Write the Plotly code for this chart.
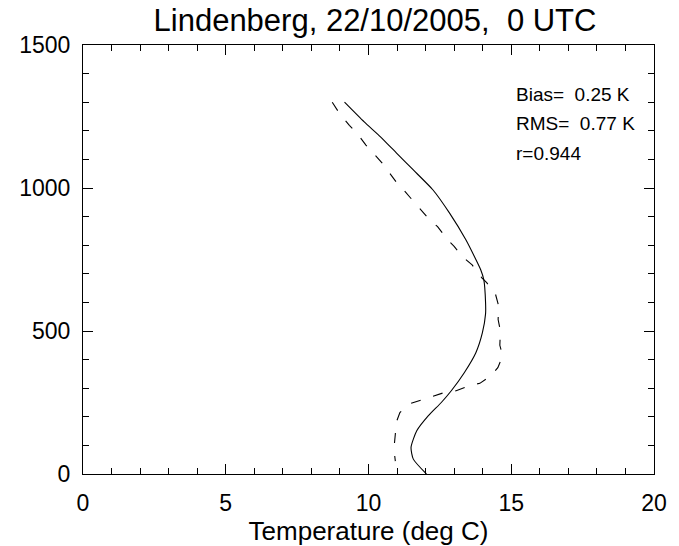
import plotly.graph_objects as go

# Solid profile (temperature in deg C, height in m)
solid_temp = [9.16, 9.85, 10.42, 11.0, 11.57, 12.26, 12.84, 13.41, 13.76, 13.93, 14.04, 14.1,
              14.1, 13.99, 13.76, 13.36, 12.9, 12.55, 12.09, 11.69, 11.49, 11.57, 12.03]
solid_height = [1300, 1231, 1179, 1120, 1063, 993, 912, 819, 750, 714, 679, 600,
                560, 494, 424, 355, 291, 250, 203, 151, 93, 52, 0]

# Dashed profile
dashed_temp = [8.73, 8.99, 9.33, 9.56, 9.91, 10.14, 10.48, 10.66, 11.0, 11.23, 11.6, 11.8,
               12.15, 12.42, 12.77, 13.0, 13.29, 13.63, 13.97, 14.14, 14.45, 14.56, 14.54,
               14.62, 14.6, 14.7, 14.53, 14.28, 13.9, 13.56, 13.07, 12.72, 12.23, 11.84,
               11.4, 11.1, 10.97, 10.94, 10.89, 10.94]
dashed_height = [1300, 1260, 1219, 1196, 1150, 1126, 1087, 1063, 1017, 993, 952, 930,
                 888, 865, 819, 796, 760, 731, 686, 669, 628, 587, 540,
                 500, 450, 413, 372, 343, 317, 310, 291, 287, 271, 256,
                 244, 215, 180, 140, 87, 45]

stats_lines = ["Bias=\u00a0\u00a00.25 K", "RMS=\u00a0\u00a00.77 K", "r=0.944"]
stats_y = [1327, 1225, 1121]
title_text = "Lindenberg, 22/10/2005,\u00a0\u00a00 UTC"
x_title = "Temperature (deg C)"

fig = go.Figure()
fig.add_trace(go.Scatter(x=solid_temp, y=solid_height, mode="lines",
                         line=dict(color="black", width=1.1, shape="spline", smoothing=0.6),
                         showlegend=False))
fig.add_trace(go.Scatter(x=dashed_temp, y=dashed_height, mode="lines",
                         line=dict(color="black", width=1.1, dash="10px,13px"),
                         showlegend=False))

font_family = "Liberation Sans, Arial, sans-serif"

for t, yv in zip(stats_lines, stats_y):
    fig.add_annotation(x=15.08, y=yv, xref="x", yref="y", text=t,
                       showarrow=False, xanchor="left", yanchor="middle",
                       font=dict(family=font_family, size=19, color="black"))

axis_common = dict(showgrid=False, zeroline=False, showline=True, linecolor="black",
                   linewidth=1, mirror="allticks", ticks="inside", tickcolor="black",
                   tickwidth=1, tickfont=dict(family=font_family, size=23, color="black"))

fig.update_xaxes(range=[0, 20], tick0=0, dtick=5, ticklen=10,
                 minor=dict(dtick=1, ticklen=6, ticks="inside", tickcolor="black", tickwidth=1),
                 ticklabelstandoff=8,
                 title=dict(text=x_title, font=dict(family=font_family, size=26, color="black"),
                            standoff=0),
                 **axis_common)
fig.update_yaxes(range=[0, 1500], tick0=0, dtick=500, ticklen=10,
                 minor=dict(dtick=100, ticklen=6, ticks="inside", tickcolor="black", tickwidth=1),
                 ticklabelstandoff=7,
                 **axis_common)

fig.update_layout(
    width=679, height=546,
    margin=dict(l=83, r=17, t=45, b=72),
    paper_bgcolor="white", plot_bgcolor="white",
    title=dict(text=title_text, x=375 / 679, xanchor="center", y=1 - 20 / 546, yanchor="middle",
               font=dict(family=font_family, size=31, color="black")),
)

fig.write_html("out.html")
